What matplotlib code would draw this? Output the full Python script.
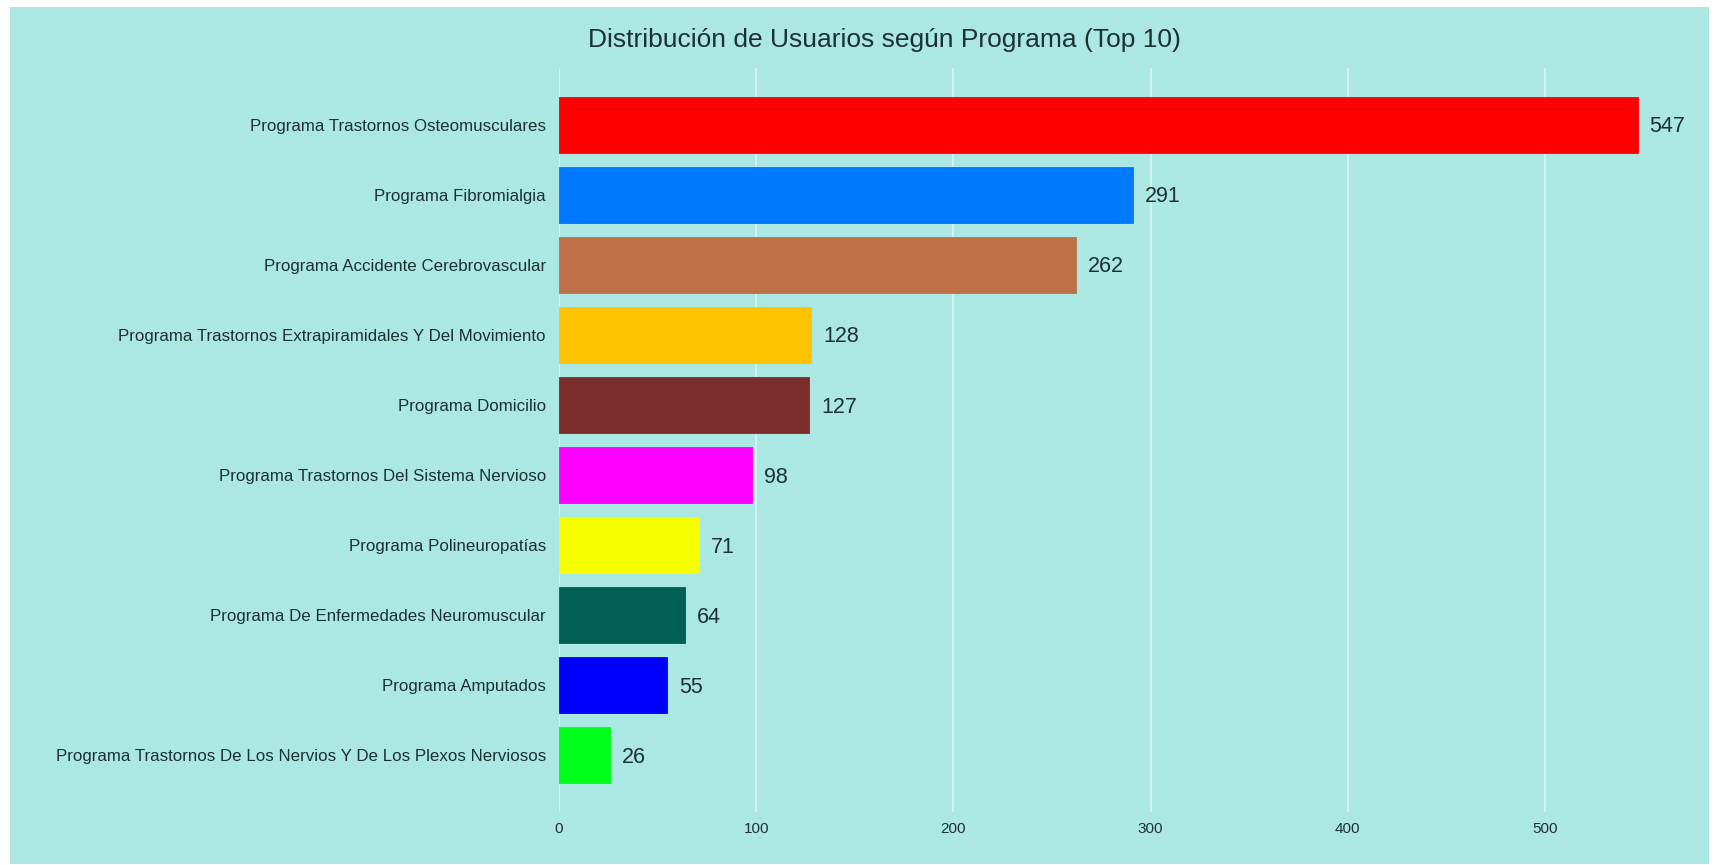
import matplotlib
matplotlib.use("Agg")
import matplotlib.pyplot as plt
from matplotlib.patches import Rectangle

plt.rcParams['font.family'] = ['Liberation Sans', 'DejaVu Sans']

categories = [
    "Programa Trastornos Osteomusculares",
    "Programa Fibromialgia",
    "Programa Accidente Cerebrovascular",
    "Programa Trastornos Extrapiramidales Y Del Movimiento",
    "Programa Domicilio",
    "Programa Trastornos Del Sistema Nervioso",
    "Programa Polineuropatías",
    "Programa De Enfermedades Neuromuscular",
    "Programa Amputados",
    "Programa Trastornos De Los Nervios Y De Los Plexos Nerviosos",
]
values = [547, 291, 262, 128, 127, 98, 71, 64, 55, 26]
colors = ["#FF0000", "#0078FF", "#BE7049", "#FFC400", "#7B2D2B",
          "#FF00FF", "#F5FF00", "#005E55", "#0000FF", "#00FF19"]
xticks = [0, 100, 200, 300, 400, 500]
title = "Distribución de Usuarios según Programa (Top 10)"

W, H = 1716, 865
bg = "#ABE8E4"
txt = "#1C3132"

fig = plt.figure(figsize=(W / 100, H / 100), dpi=100, facecolor="white")
bgrect = Rectangle((10 / W, 1 - 864 / H), (1709 - 10) / W, (864 - 7) / H,
                   transform=fig.transFigure, facecolor=bg, edgecolor="none", zorder=-10)
fig.add_artist(bgrect)

left = 559 / W
bottom = 1 - 812 / H
height = (812 - 68) / H
xmax = 580
width = xmax * 1.972 / W
ax = fig.add_axes([left, bottom, width, height])
ax.set_zorder(1)
ax.set_facecolor(bg)

ypos = list(range(len(categories)))
ax.barh(ypos, values, height=0.8, color=colors, edgecolor=[c for c in colors], linewidth=0.6, zorder=3)
ax.set_xlim(0, xmax)
ax.set_ylim(9.81, -0.81)

for y, v in zip(ypos, values):
    ax.annotate(str(v), (v, y), xytext=(8.6, -1.5), textcoords="offset points",
                ha="left", va="center", fontsize=15.5, color=txt, zorder=4)

ax.set_yticks(ypos)
ax.set_yticklabels(categories, fontsize=12.2, color=txt)
ax.set_xticks(xticks)
ax.set_xticklabels([str(t) for t in xticks], fontsize=11, color=txt)
ax.tick_params(axis="y", length=0, pad=9.4)
ax.tick_params(axis="x", length=0, pad=7)
ax.grid(axis="x", color="#E0F5F3", linewidth=1.1, zorder=1)
ax.grid(axis="y", visible=False)
for s in ax.spines.values():
    s.set_visible(False)

fig.text(884 / W, 1 - 40 / H, title, ha="center", va="center", fontsize=19, color=txt)

fig.savefig("out.png", dpi=100, facecolor="white")
